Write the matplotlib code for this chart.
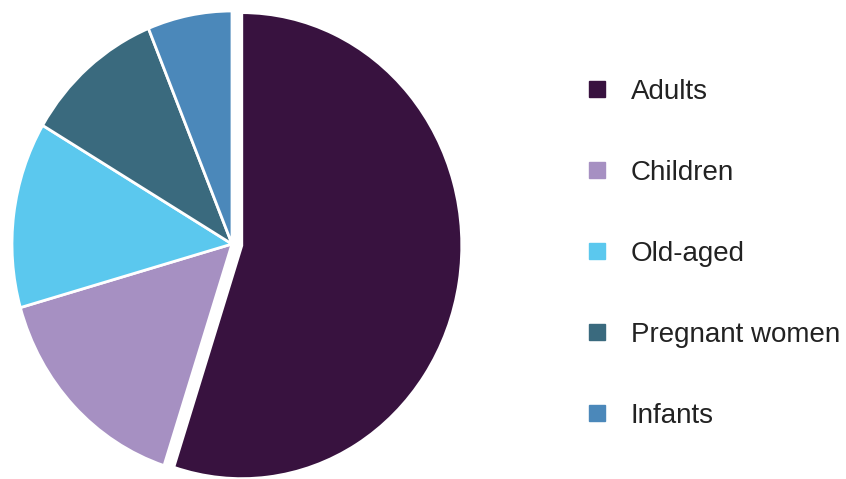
import matplotlib
matplotlib.use("Agg")
import matplotlib.pyplot as plt
from matplotlib.lines import Line2D

labels = ["Adults", "Children", "Old-aged", "Pregnant women", "Infants"]
shares = [55.0, 15.6, 12.9, 10.3, 6.2]
colors = ["#38123f", "#a690c2", "#5bc8ee", "#3a6a7e", "#4b88ba"]
explode = [0.045, 0, 0, 0, 0]

plt.rcParams["font.family"] = ["Liberation Sans", "DejaVu Sans"]

W, H = 846, 479
fig = plt.figure(figsize=(W / 100, H / 100), dpi=100)

# pie is a bit taller than wide in the reference, so use a non-equal axes
cx, cy = 232, H - 244      # centre in pixels (from bottom)
rx, ry = 220, 233          # radius in pixels
lim = 1.15
ax = fig.add_axes([(cx - rx * lim) / W, (cy - ry * lim) / H,
                   2 * rx * lim / W, 2 * ry * lim / H])
wedges, _ = ax.pie(shares, colors=colors, explode=explode, startangle=90,
                   counterclock=False,
                   wedgeprops=dict(edgecolor="white", linewidth=2.0))
ax.set_xlim(-lim, lim)
ax.set_ylim(-lim, lim)
ax.set_aspect("auto")
ax.axis("off")
for w in wedges:
    w.set_clip_on(False)

handles = [Line2D([0], [0], marker="s", linestyle="none", markersize=11,
                  markerfacecolor=c, markeredgecolor=c) for c in colors]
fig.legend(handles, labels, loc="center left",
           bbox_to_anchor=(583 / W, (H - 254) / H), frameon=False,
           fontsize=20, labelspacing=1.98, handlelength=1.0,
           handletextpad=0.72, borderpad=0, borderaxespad=0,
           labelcolor="#222222")

fig.savefig("out.png", dpi=100)
